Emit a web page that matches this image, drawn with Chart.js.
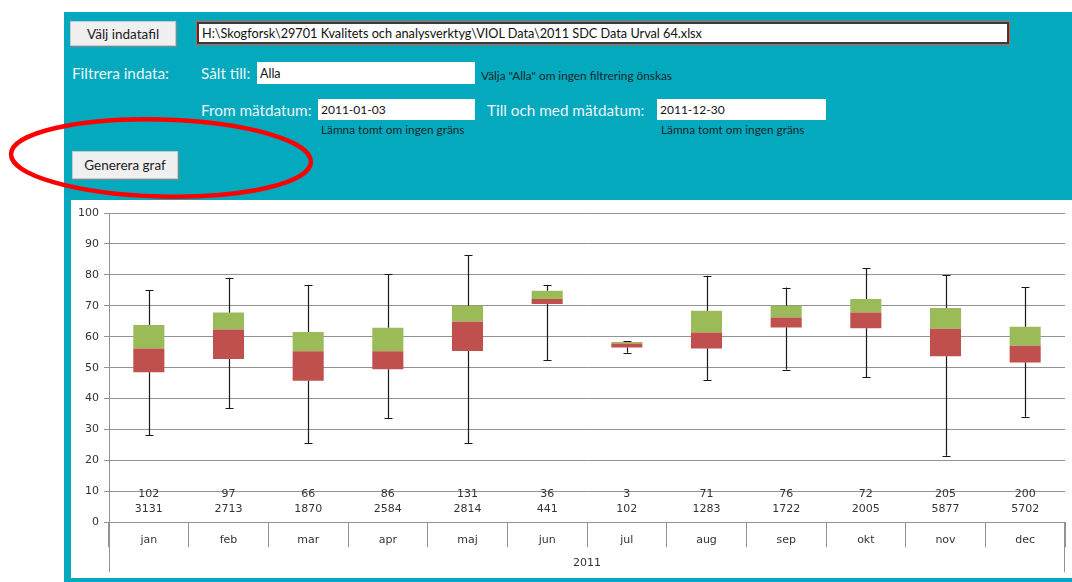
<!DOCTYPE html>
<html>
<head>
<meta charset="utf-8">
<script src="https://cdn.jsdelivr.net/npm/chart.js@4/dist/chart.umd.min.js"></script>
<style>
  html, body { margin:0; padding:0; background:#fff; width:1072px; height:582px; overflow:hidden; }
  .abs { position:absolute; }
  #panel { left:64px; top:12px; width:1008px; height:570px; background:#04A9BE; }
  .btn { background:#f0f0f0; border:1px solid #c8c8c8; box-shadow:1px 1px 1px #6f8f95; font-family:Lato, "Open Sans", sans-serif; font-size:13.5px; color:#222; display:flex; align-items:center; justify-content:center; box-sizing:border-box; }
  .lbl { font-family:Lato, "Open Sans", sans-serif; font-size:15.3px; color:#eaf6f8; white-space:nowrap; line-height:1; }
  .box { background:#fff; box-sizing:border-box; font-family:Lato, "Open Sans", sans-serif; font-size:12.5px; color:#111; padding-left:3px; display:flex; align-items:center; white-space:nowrap; }
  .small { font-family:Lato, "Open Sans", sans-serif; font-size:11.8px; color:#15282b; white-space:nowrap; line-height:1; }
  #chartWrap { left:71px; top:200px; width:1001px; height:378px; background:#fff; }
</style>
</head>
<body>
<div id="panel" class="abs"></div>

<div class="abs btn" style="left:70px;top:21px;width:106px;height:25px;">Välj indatafil</div>
<div class="abs box" style="left:197px;top:22px;width:812px;height:22px;border:2px solid #3a3a3a;outline:1px solid #e0553f;font-size:12.7px;">H:\Skogforsk\29701 Kvalitets och analysverktyg\VIOL Data\2011 SDC Data Urval 64.xlsx</div>

<div class="abs lbl" style="left:72px;top:66px;">Filtrera indata:</div>
<div class="abs lbl" style="left:201px;top:66px;">Sålt till:</div>
<div class="abs box" style="left:257px;top:62px;width:218px;height:22px;">Alla</div>
<div class="abs small" style="left:481px;top:70px;">Välja "Alla" om ingen filtrering önskas</div>

<div class="abs lbl" style="left:201px;top:103px;">From mätdatum:</div>
<div class="abs box" style="left:318px;top:99px;width:157px;height:21px;font-size:12px;">2011-01-03</div>
<div class="abs small" style="left:321px;top:124px;">Lämna tomt om ingen gräns</div>

<div class="abs lbl" style="left:487px;top:103px;">Till och med mätdatum:</div>
<div class="abs box" style="left:657px;top:99px;width:169px;height:21px;font-size:12px;">2011-12-30</div>
<div class="abs small" style="left:661px;top:124px;">Lämna tomt om ingen gräns</div>

<div class="abs btn" style="left:72px;top:151px;width:106px;height:28px;">Generera graf</div>

<div id="chartWrap" class="abs"><canvas id="c"></canvas></div>

<svg class="abs" style="left:0;top:0;" width="1072" height="582">
  <ellipse cx="161" cy="158" rx="150" ry="38.5" fill="none" stroke="#ff0000" stroke-width="4.5" transform="rotate(1.5 161 158)"/>
</svg>

<script>
const months = ['jan','feb','mar','apr','maj','jun','jul','aug','sep','okt','nov','dec'];
const yearLabel = '2011';
const maxV   = [75.0, 79.1, 76.7, 80.3, 86.4, 76.7, 58.6, 79.7, 75.9, 82.1, 79.9, 76.1];
const q3V    = [63.8, 67.8, 61.5, 62.9, 70.0, 74.9, 58.3, 68.4, 70.0, 72.2, 69.3, 63.2];
const medV   = [56.2, 62.3, 55.3, 55.3, 64.8, 72.2, 57.8, 61.4, 66.2, 67.8, 62.6, 57.1];
const q1V    = [48.5, 52.8, 45.8, 49.5, 55.4, 70.6, 56.5, 56.2, 63.0, 62.7, 53.7, 51.7];
const minV   = [28.2, 36.8, 25.6, 33.7, 25.6, 52.4, 54.8, 46.0, 49.4, 46.9, 21.5, 34.1];
const countA = [102, 97, 66, 86, 131, 36, 3, 71, 76, 72, 205, 200];
const countB = [3131, 2713, 1870, 2584, 2814, 441, 102, 1283, 1722, 2005, 5877, 5702];
const yMin = 0, yMax = 100, yStep = 10;

const FONT = '"DejaVu Sans", Verdana, sans-serif';
const GRID = '#939393';

const whiskerPlugin = {
  id: 'whiskers',
  afterDatasetsDraw(chart) {
    const {ctx, scales: {x, y}} = chart;
    ctx.save();
    ctx.strokeStyle = '#1a1a1a';
    ctx.lineWidth = 1.2;
    for (let i = 0; i < months.length; i++) {
      const px = Math.round(x.getPixelForValue(i)) + 0.5;
      const segs = [[q3V[i], maxV[i]], [minV[i], q1V[i]]];
      ctx.beginPath();
      for (const [a, b] of segs) {
        ctx.moveTo(px, y.getPixelForValue(a));
        ctx.lineTo(px, y.getPixelForValue(b));
      }
      for (const v of [maxV[i], minV[i]]) {
        const py = Math.round(y.getPixelForValue(v)) + 0.5;
        ctx.moveTo(px - 4, py);
        ctx.lineTo(px + 4, py);
      }
      ctx.stroke();
    }
    ctx.restore();
  },
  afterDraw(chart) {
    const {ctx, chartArea, scales: {x, y}} = chart;
    ctx.save();
    ctx.font = '11px ' + FONT;
    ctx.fillStyle = '#333';
    ctx.textAlign = 'center';
    ctx.textBaseline = 'middle';
    for (let i = 0; i < months.length; i++) {
      const px = x.getPixelForValue(i);
      ctx.fillText(String(countA[i]), px, y.getPixelForValue(9.2));
      ctx.fillText(String(countB[i]), px, y.getPixelForValue(4.3));
    }
    ctx.strokeStyle = GRID;
    ctx.lineWidth = 1;
    ctx.beginPath();
    const l = Math.round(chartArea.left) + 0.5, r = Math.round(chartArea.right) - 0.5;
    const b = chartArea.bottom;
    ctx.moveTo(l, b); ctx.lineTo(l, b + 50);
    ctx.moveTo(r, b); ctx.lineTo(r, b + 50);
    ctx.stroke();
    ctx.restore();
  }
};

new Chart(document.getElementById('c'), {
  type: 'bar',
  data: {
    labels: months,
    datasets: [
      { label: 'low', data: months.map((m, i) => [q1V[i], medV[i]]), backgroundColor: '#C0504D', borderWidth: 0 },
      { label: 'high', data: months.map((m, i) => [medV[i], q3V[i]]), backgroundColor: '#9BBB59', borderWidth: 0 }
    ]
  },
  options: {
    responsive: true,
    maintainAspectRatio: false,
    animation: false,
    events: [],
    layout: { padding: { top: 13, right: 7, left: 0, bottom: 0 } },
    plugins: { legend: { display: false }, tooltip: { enabled: false } },
    datasets: { bar: { grouped: false, barPercentage: 0.39, categoryPercentage: 1 } },
    scales: {
      x: {
        offset: true,
        grid: { offset: true, drawOnChartArea: false, drawTicks: true, tickLength: 25, color: GRID },
        border: { display: true, color: GRID },
        ticks: { padding: -14, font: { family: FONT, size: 11 }, color: '#333', maxRotation: 0 },
        title: { display: true, text: yearLabel, font: { family: FONT, size: 11 }, color: '#333', padding: { top: 0, bottom: 8 } },
        afterFit(s) { s.height = 55.7; }
      },
      y: {
        min: yMin, max: yMax,
        grid: { color: GRID, tickLength: 5, lineWidth: 1 },
        border: { display: true, color: GRID },
        ticks: { stepSize: yStep, padding: 5, font: { family: FONT, size: 11 }, color: '#333' },
        afterFit(s) { s.width = 38; }
      }
    }
  },
  plugins: [whiskerPlugin]
});
</script>
</body>
</html>
